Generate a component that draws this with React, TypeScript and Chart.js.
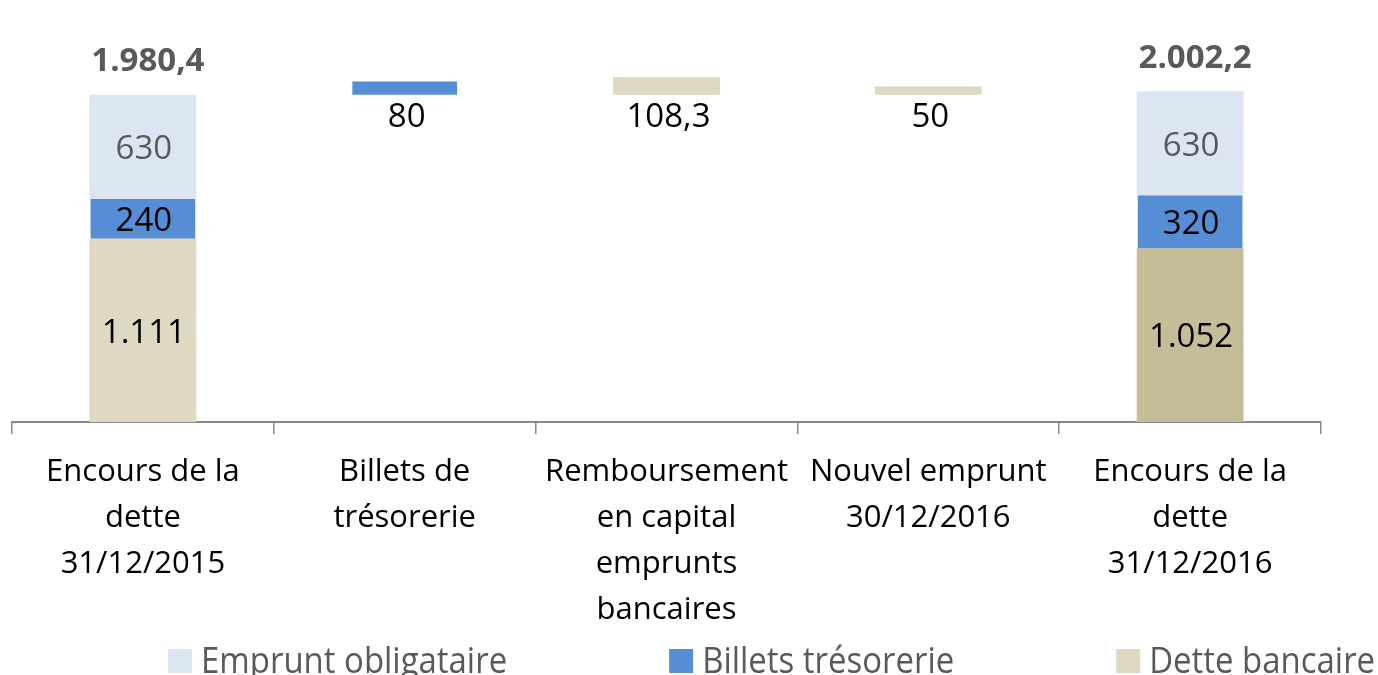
import React, { useEffect, useRef } from "react";
import { Chart, registerables } from "chart.js";

Chart.register(...registerables);

// ---- data ----
const categories: string[][] = [
  ["Encours de la", "dette", "31/12/2015"],
  ["Billets de", "trésorerie"],
  ["Remboursement", "en capital", "emprunts", "bancaires"],
  ["Nouvel emprunt", "30/12/2016"],
  ["Encours de la", "dette", "31/12/2016"],
];
const seriesNames = ["Emprunt obligataire", "Billets trésorerie", "Dette bancaire"];
const empruntObligataire: (number | null)[] = [630, null, null, null, 630];
const billetsTresorerie: (number | null)[] = [240, 80, null, null, 320];
const detteBancaire: (number | null)[] = [1111, null, 108.3, 50, 1052];
// starting level of the floating (variation) bars
const variationBase: (number | null)[] = [null, 1980.4, 1980.4, 1980.4, null];
const totals: (number | null)[] = [1980.4, null, null, null, 2002.2];

// ---- styles ----
const FONT = '"Open Sans", "DejaVu Sans", sans-serif';
const COL_EMPRUNT = "#DCE6F2";
const COL_BILLETS = "#558ED5";
const COL_DETTE = "#DDD9C3";
const COL_DETTE_END = "#C4BD97";
const AXIS_GREY = "#898989";
const LABEL_GREY = "#595959";

const stackOrder = [detteBancaire, billetsTresorerie, empruntObligataire];

function ranges(series: (number | null)[]): ([number, number] | null)[] {
  return categories.map((_, i) => {
    const v = series[i];
    if (v == null) return null;
    const base = variationBase[i];
    if (base != null) return [base, base + v];
    let start = 0;
    for (const s of stackOrder) {
      if (s === series) break;
      start += s[i] ?? 0;
    }
    return [start, start + v];
  });
}

function fmt(v: number): string {
  const [i, d] = String(v).split(".");
  const int = i.replace(/\B(?=(\d{3})+(?!\d))/g, ".");
  return d ? int + "," + d : int;
}

const rawSeries = [empruntObligataire, billetsTresorerie, detteBancaire];
const legendColors = [COL_EMPRUNT, COL_BILLETS, COL_DETTE];

const labelPlugin = {
  id: "valueLabels",
  afterDatasetsDraw(chart: any) {
    const ctx = chart.ctx as CanvasRenderingContext2D;
    ctx.save();
    ctx.textAlign = "center";
    ctx.textBaseline = "middle";
    rawSeries.forEach((series, d) => {
      const meta = chart.getDatasetMeta(d);
      series.forEach((v, i) => {
        if (v == null) return;
        const el: any = meta.data[i];
        const top = Math.min(el.y, el.base);
        const bottom = Math.max(el.y, el.base);
        ctx.font = `33px ${FONT}`;
        ctx.fillStyle = d === 0 ? LABEL_GREY : "#000000";
        if (variationBase[i] != null) {
          ctx.fillText(fmt(v), el.x + 2, bottom + 23);
        } else {
          ctx.fillText(fmt(v), el.x + 1, (top + bottom) / 2 + 3);
        }
      });
    });
    const xs = chart.scales.x;
    const ys = chart.scales.y;
    totals.forEach((t, i) => {
      if (t == null) return;
      ctx.font = `bold 33px ${FONT}`;
      ctx.fillStyle = LABEL_GREY;
      ctx.fillText(fmt(t), xs.getPixelForValue(i) + 5, ys.getPixelForValue(t) - 33);
    });
    ctx.restore();
  },
};

const legendPlugin = {
  id: "bottomLegend",
  afterDraw(chart: any) {
    const ctx = chart.ctx as CanvasRenderingContext2D;
    ctx.save();
    const sx = 0.89;
    ctx.font = `37px ${FONT}`;
    ctx.textBaseline = "alphabetic";
    ctx.textAlign = "left";
    let x = 168;
    const box = 24;
    const boxTop = 649;
    const baseline = 673;
    seriesNames.forEach((name, k) => {
      ctx.fillStyle = legendColors[k];
      ctx.fillRect(x, boxTop, box, box);
      const tx = x + box + 9;
      const w = ctx.measureText(name).width * sx;
      ctx.save();
      ctx.translate(tx, baseline);
      ctx.scale(sx, 1);
      ctx.fillStyle = LABEL_GREY;
      ctx.fillText(name, 0, 0);
      ctx.restore();
      x = tx + w + 162;
    });
    ctx.restore();
  },
};

export default function App() {
  const ref = useRef<HTMLCanvasElement | null>(null);
  useEffect(() => {
    if (!ref.current) return;
    const detteColors = categories.map((_, i) =>
      i === categories.length - 1 ? COL_DETTE_END : COL_DETTE
    );
    const chart = new Chart(ref.current, {
      type: "bar",
      data: {
        labels: categories,
        datasets: [
          {
            label: seriesNames[0],
            data: ranges(empruntObligataire) as any,
            backgroundColor: COL_EMPRUNT,
            barPercentage: 0.408,
          },
          {
            label: seriesNames[1],
            data: ranges(billetsTresorerie) as any,
            backgroundColor: COL_BILLETS,
            barPercentage: 0.4,
          },
          {
            label: seriesNames[2],
            data: ranges(detteBancaire) as any,
            backgroundColor: detteColors,
            barPercentage: 0.408,
          },
        ],
      },
      options: {
        responsive: false,
        devicePixelRatio: 1,
        animation: false,
        layout: { padding: { left: 12, right: 57, top: 0, bottom: 0 } },
        datasets: { bar: { grouped: false, categoryPercentage: 1 } },
        plugins: {
          legend: { display: false },
          tooltip: { enabled: false },
          title: { display: false },
        },
        scales: {
          x: {
            grid: {
              display: true,
              drawOnChartArea: false,
              drawTicks: true,
              tickLength: 12,
              color: AXIS_GREY,
              lineWidth: 1.5,
            },
            border: { display: true, color: AXIS_GREY, width: 2 },
            ticks: {
              color: "#000000",
              padding: 15,
              maxRotation: 0,
              autoSkip: false,
              font: { family: FONT, size: 31, lineHeight: "46px" as any },
            },
            afterFit: (scale: any) => {
              scale.height = 253;
            },
          },
          y: {
            display: false,
            min: 0,
            max: 2554,
          },
        },
      },
      plugins: [labelPlugin, legendPlugin],
    });
    return () => chart.destroy();
  }, []);
  return (
    <div style={{ position: "fixed", left: 0, top: 0, width: 1378, height: 675, background: "#fff" }}>
      <canvas ref={ref} width={1378} height={675} style={{ width: 1378, height: 675, display: "block" }} />
    </div>
  );
}
